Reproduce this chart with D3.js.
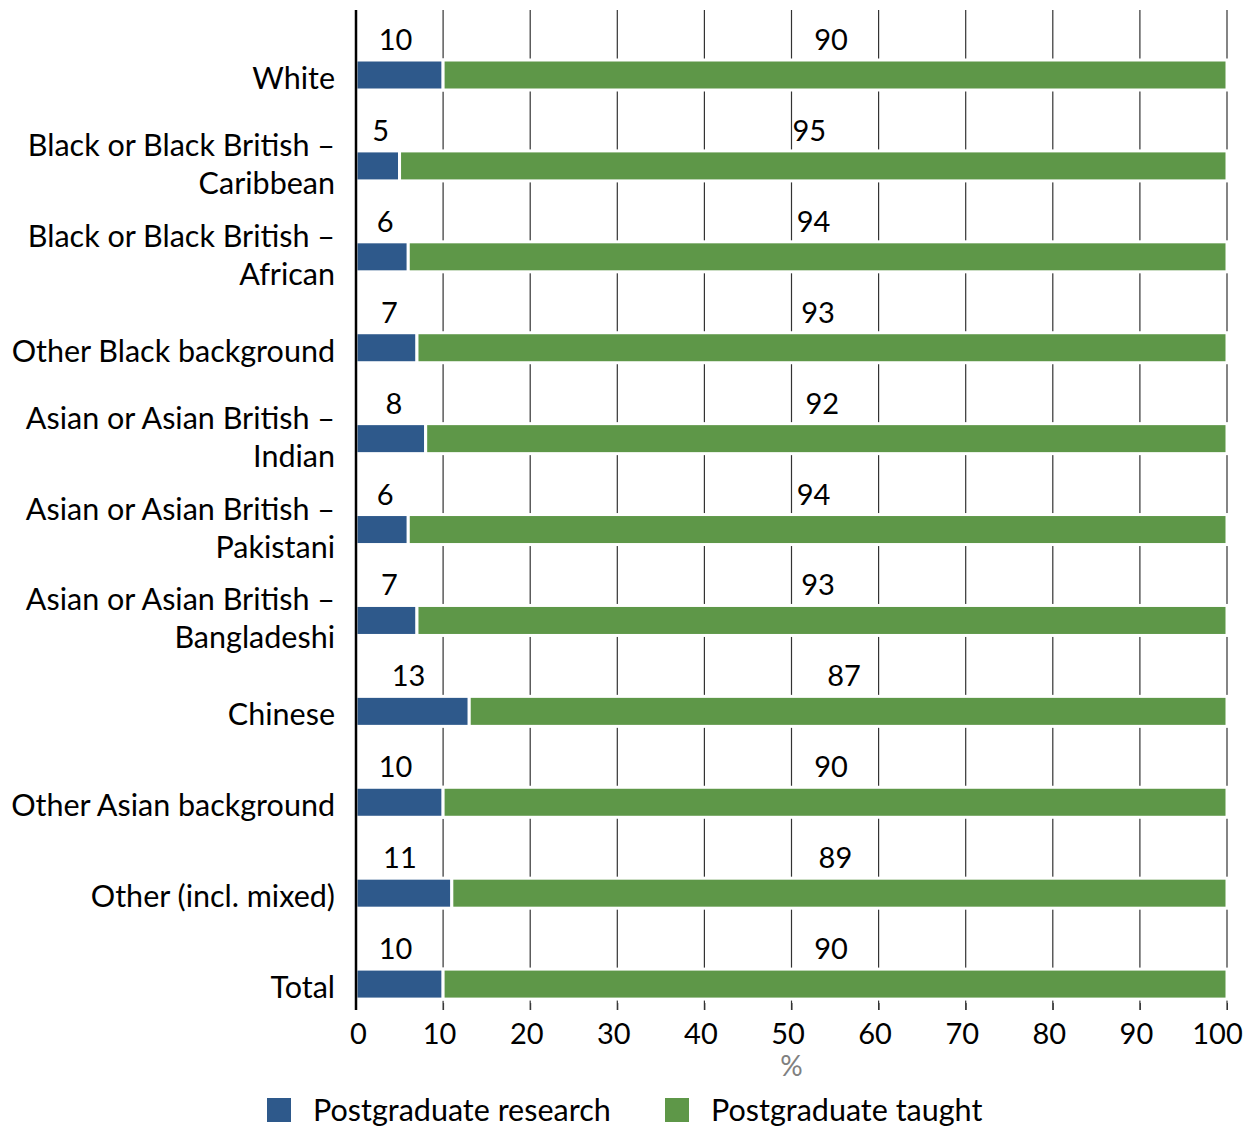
<!DOCTYPE html>
<html>
<head>
<meta charset="utf-8">
<script src="https://cdn.jsdelivr.net/npm/d3@7"></script>
<style>
  html, body { margin: 0; padding: 0; background: #fff; }
  svg text { font-family: "Lato", "Open Sans", sans-serif; fill: #000; }
</style>
</head>
<body>
<svg id="chart" width="1250" height="1129"></svg>
<script>
// Ethnic groups (each entry lists the lines of its axis label)
const categories = [
  ["White"],
  ["Black or Black British \u2013", "Caribbean"],
  ["Black or Black British \u2013", "African"],
  ["Other Black background"],
  ["Asian or Asian British \u2013", "Indian"],
  ["Asian or Asian British \u2013", "Pakistani"],
  ["Asian or Asian British \u2013", "Bangladeshi"],
  ["Chinese"],
  ["Other Asian background"],
  ["Other (incl. mixed)"],
  ["Total"]
];
const research = [10, 5, 6, 7, 8, 6, 7, 13, 10, 11, 10];
const taught   = [90, 95, 94, 93, 92, 94, 93, 87, 90, 89, 90];
const xTicks = [0, 10, 20, 30, 40, 50, 60, 70, 80, 90, 100];
const seriesNames = ["Postgraduate research", "Postgraduate taught"];
const colors = ["#2e598b", "#5e9748"];

const FONT = 30.5;     // category and legend text
const NUM_FONT = 29;   // numbers

const svg = d3.select("#chart");
const keys = categories.map((c, i) => i);

const x = d3.scaleLinear().domain([0, 100]).range([356, 1227]);
const y = d3.scaleBand().domain(keys).range([10, 1010]);
const barOffset = 50, barH = 30;

// vertical gridlines across the plot
svg.append("g")
  .selectAll("line")
  .data(xTicks.slice(1))
  .join("line")
  .attr("x1", d => x(d)).attr("x2", d => x(d))
  .attr("y1", 10).attr("y2", 1010)
  .attr("stroke", "#333").attr("stroke-width", 1.2);

// small nudge so one- and two-digit labels sit like the typeset figures
const nudge = v => (v < 10 ? 3 : -4);

// stacked bars
const rows = keys.map(i => ({ i, r: research[i], t: taught[i] }));
const g = svg.append("g");
rows.forEach(row => {
  const yy = y(row.i) + barOffset;
  g.append("rect")
    .attr("x", x(0)).attr("y", yy)
    .attr("width", x(row.r) - x(0)).attr("height", barH)
    .attr("fill", colors[0]).attr("stroke", "#fff").attr("stroke-width", 3);
  g.append("rect")
    .attr("x", x(row.r)).attr("y", yy)
    .attr("width", x(row.r + row.t) - x(row.r)).attr("height", barH)
    .attr("fill", colors[1]).attr("stroke", "#fff").attr("stroke-width", 3);
  // value labels above each segment
  g.append("text")
    .attr("x", (x(0) + x(row.r)) / 2 + nudge(row.r)).attr("y", yy - 10)
    .attr("text-anchor", "middle").attr("font-size", NUM_FONT)
    .text(row.r);
  g.append("text")
    .attr("x", (x(row.r) + x(row.r + row.t)) / 2 - 4).attr("y", yy - 10)
    .attr("text-anchor", "middle").attr("font-size", NUM_FONT)
    .text(row.t);
});

// category labels
const catG = svg.append("g");
categories.forEach((lines, i) => {
  const cy = y(i) + barOffset + barH / 2;
  const t = catG.append("text")
    .attr("x", 335).attr("text-anchor", "end").attr("font-size", FONT);
  if (lines.length === 1) {
    t.append("tspan").attr("x", 335).attr("y", cy + 14).text(lines[0]);
  } else {
    t.append("tspan").attr("x", 335).attr("y", cy - 10).text(lines[0]);
    t.append("tspan").attr("x", 335).attr("y", cy + 28).text(lines[1]);
  }
});

// x axis
const xAxis = d3.axisBottom(x).tickValues(xTicks).tickSize(7).tickPadding(13).tickFormat(d3.format("d"));
const ax = svg.append("g").attr("transform", "translate(0,1003)").call(xAxis);
ax.select(".domain").remove();
ax.selectAll(".tick line").attr("stroke", "#333");
ax.selectAll(".tick text")
  .attr("font-size", NUM_FONT)
  .attr("font-family", "Lato, 'Open Sans', sans-serif")
  .attr("fill", "#000")
  .attr("dx", d => (d === 0 ? 2 : d === 100 ? -10 : -4));

// y axis line
svg.append("line")
  .attr("x1", x(0)).attr("x2", x(0)).attr("y1", 10).attr("y2", 1010)
  .attr("stroke", "#000").attr("stroke-width", 2.5);

// axis unit
svg.append("text").attr("x", x(50)).attr("y", 1076)
  .attr("text-anchor", "middle").attr("font-size", 28).style("fill", "#808080").text("%");

// legend
const legendX = [267, 665];
seriesNames.forEach((name, i) => {
  svg.append("rect").attr("x", legendX[i]).attr("y", 1098).attr("width", 24).attr("height", 24).attr("fill", colors[i]);
  svg.append("text").attr("x", legendX[i] + 46).attr("y", 1121).attr("font-size", FONT).text(name);
});
</script>
</body>
</html>
